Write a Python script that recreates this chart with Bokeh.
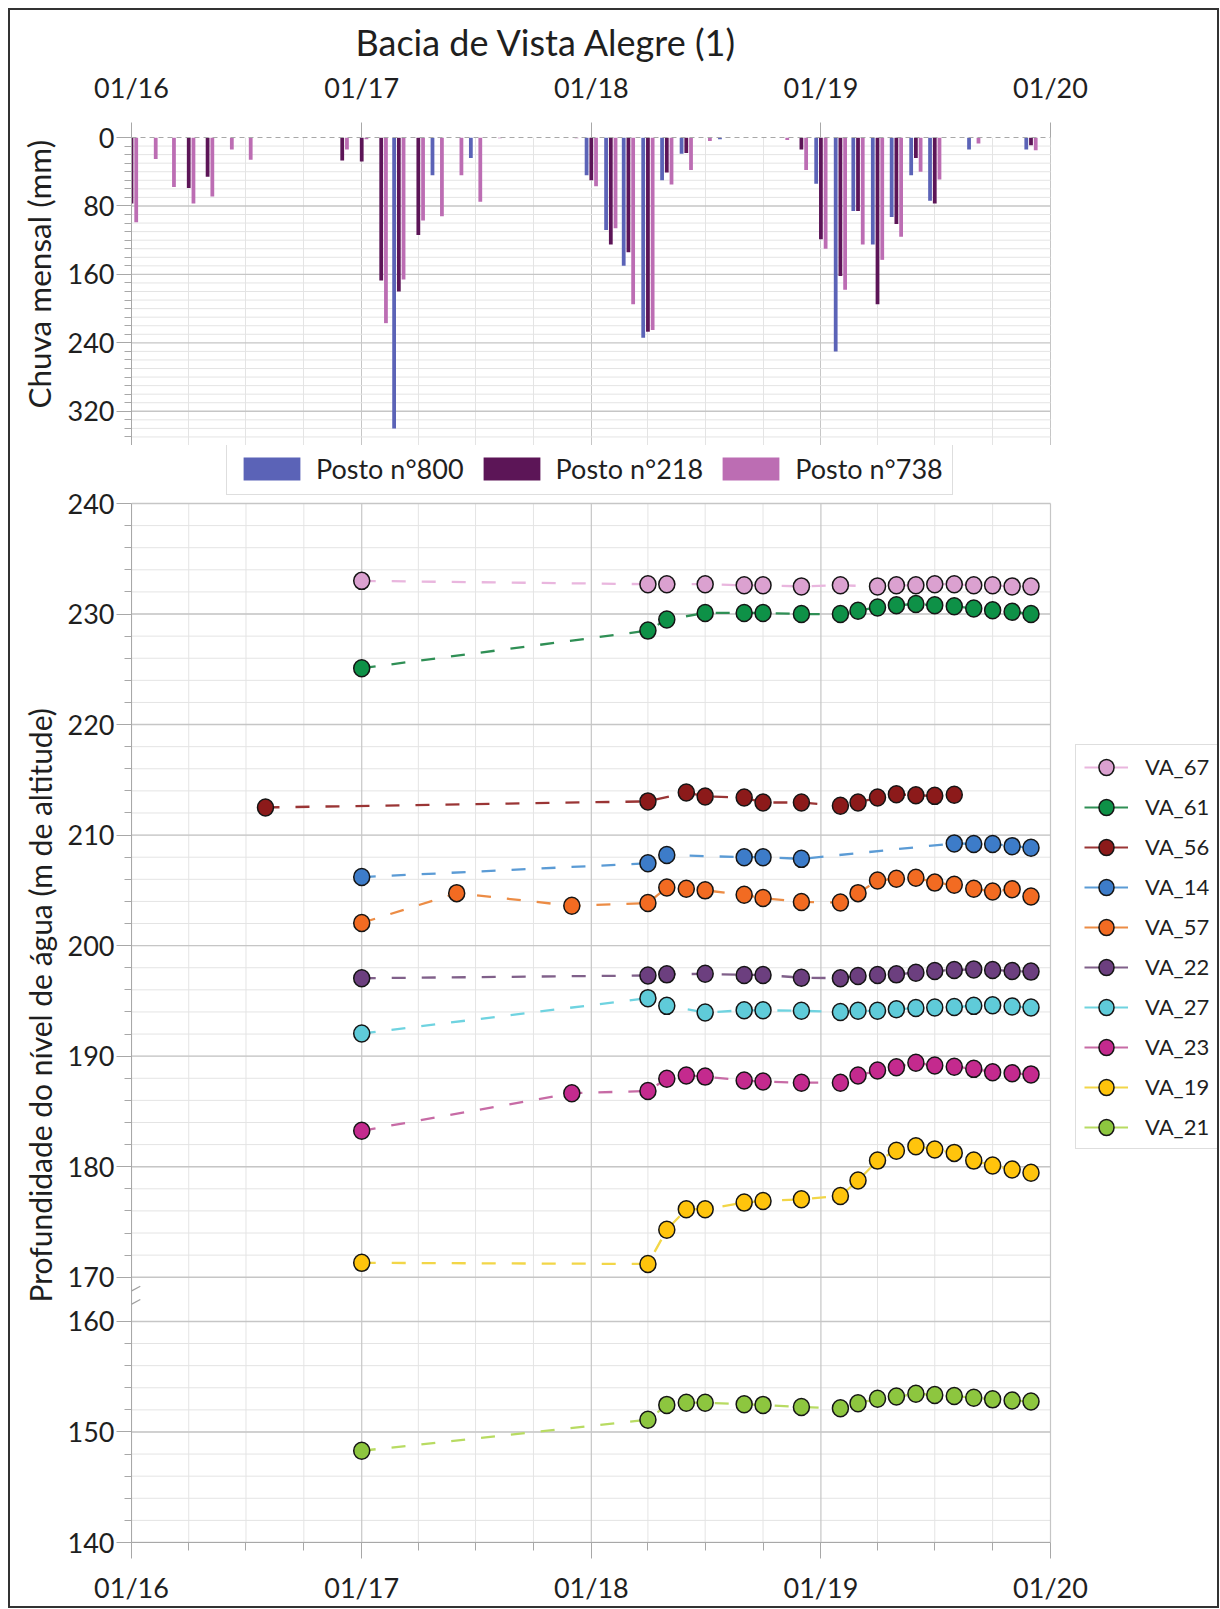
import pandas as pd
from bokeh.plotting import figure
from bokeh.models import (Range1d, FixedTicker, DatetimeTickFormatter, Legend, LegendItem,
                          ColumnDataSource, Arrow, Title)
from bokeh.layouts import column
from bokeh.embed import file_html
from bokeh.resources import INLINE

FONT = "Lato"
TXT = "#1f1f1f"

# ---------------- data: monthly rainfall (mm), Jan 2016 .. Dec 2019 ----------------
MONTHS = pd.date_range("2016-01-01", "2019-12-01", freq="MS")
RAIN_800 = [0, 0, 0, 0, 0, 0, 0, 0, 0, 0, 0, 0,
            0, 0, 340, 0, 44, 0, 24, 0, 0, 0, 0, 0,
            44, 108, 150, 234, 50, 19, 0, 2, 0, 0, 0, 0,
            54, 250, 86, 125, 93, 44, 74, 0, 14, 0, 0, 14]
RAIN_218 = [77, 0, 0, 59, 46, 0, 0, 0, 0, 0, 0, 27,
            28, 167, 180, 114, 0, 0, 0, 0, 0, 0, 0, 0,
            50, 125, 134, 227, 41, 18, 0, 0, 0, 0, 0, 14,
            119, 162, 86, 195, 101, 24, 77, 0, 0, 0, 0, 9]
RAIN_738 = [99, 25, 58, 77, 69, 14, 26, 0, 0, 0, 0, 14,
            2, 217, 166, 97, 92, 44, 75, 1, 0, 0, 0, 1,
            57, 106, 195, 225, 55, 38, 4, 0, 0, 0, 3, 38,
            130, 178, 125, 143, 116, 40, 49, 0, 7, 0, 0, 15]
RAIN_NAMES = ["Posto n°800", "Posto n°218", "Posto n°738"]
RAIN_TICKS = [0, 80, 160, 240, 320]

# ---------------- data: water level (m), per well ----------------
D2019 = ["2019-02-01", "2019-03-01", "2019-04-01", "2019-05-01", "2019-06-01", "2019-07-01",
         "2019-08-01", "2019-09-01", "2019-10-01", "2019-11-01", "2019-12-01"]

VA_67_DATES = ["2017-01-01", "2018-04-01", "2018-05-01", "2018-07-01", "2018-09-01", "2018-10-01",
               "2018-12-01", "2019-02-01", "2019-04-01", "2019-05-01", "2019-06-01", "2019-07-01",
               "2019-08-01", "2019-09-01", "2019-10-01", "2019-11-01", "2019-12-01"]
VA_67 = [233.0, 232.7, 232.7, 232.7, 232.6, 232.6, 232.5, 232.6, 232.5, 232.6, 232.6, 232.7,
         232.7, 232.6, 232.6, 232.5, 232.5]

VA_61_DATES = ["2017-01-01", "2018-04-01", "2018-05-01", "2018-07-01", "2018-09-01", "2018-10-01",
               "2018-12-01"] + D2019
VA_61 = [225.1, 228.5, 229.5, 230.1, 230.1, 230.1, 230.0, 230.0, 230.3, 230.6, 230.8, 230.9,
         230.8, 230.7, 230.5, 230.35, 230.2, 230.0]

VA_56_DATES = ["2016-08-01", "2018-04-01", "2018-06-01", "2018-07-01", "2018-09-01", "2018-10-01",
               "2018-12-01", "2019-02-01", "2019-03-01", "2019-04-01", "2019-05-01", "2019-06-01",
               "2019-07-01", "2019-08-01"]
VA_56 = [212.5, 213.05, 213.85, 213.5, 213.4, 212.95, 212.95, 212.65, 212.95, 213.4, 213.7,
         213.6, 213.55, 213.65]

VA_14_DATES = ["2017-01-01", "2018-04-01", "2018-05-01", "2018-09-01", "2018-10-01", "2018-12-01",
               "2019-08-01", "2019-09-01", "2019-10-01", "2019-11-01", "2019-12-01"]
VA_14 = [206.2, 207.45, 208.2, 208.0, 208.0, 207.85, 209.25, 209.2, 209.2, 209.0, 208.85]

VA_57_DATES = ["2017-01-01", "2017-06-01", "2017-12-01", "2018-04-01", "2018-05-01", "2018-06-01",
               "2018-07-01", "2018-09-01", "2018-10-01", "2018-12-01"] + D2019
VA_57 = [202.05, 204.75, 203.6, 203.85, 205.25, 205.15, 205.0, 204.6, 204.3, 203.95, 203.9,
         204.75, 205.9, 206.05, 206.15, 205.7, 205.5, 205.15, 204.9, 205.1, 204.45]

VA_22_DATES = ["2017-01-01", "2018-04-01", "2018-05-01", "2018-07-01", "2018-09-01", "2018-10-01",
               "2018-12-01"] + D2019
VA_22 = [197.05, 197.3, 197.4, 197.45, 197.35, 197.35, 197.1, 197.05, 197.25, 197.35, 197.4,
         197.55, 197.7, 197.8, 197.85, 197.8, 197.7, 197.65]

VA_27_DATES = VA_22_DATES
VA_27 = [192.05, 195.25, 194.55, 193.95, 194.15, 194.15, 194.1, 194.0, 194.1, 194.1, 194.25,
         194.35, 194.4, 194.45, 194.55, 194.6, 194.5, 194.4]

VA_23_DATES = ["2017-01-01", "2017-12-01", "2018-04-01", "2018-05-01", "2018-06-01", "2018-07-01",
               "2018-09-01", "2018-10-01", "2018-12-01"] + D2019
VA_23 = [183.25, 186.65, 186.85, 187.95, 188.25, 188.15, 187.8, 187.7, 187.6, 187.6, 188.25,
         188.7, 189.0, 189.4, 189.15, 189.05, 188.85, 188.55, 188.45, 188.35]

VA_19_DATES = ["2017-01-01", "2018-04-01", "2018-05-01", "2018-06-01", "2018-07-01", "2018-09-01",
               "2018-10-01", "2018-12-01"] + D2019
VA_19 = [171.3, 171.2, 174.3, 176.15, 176.15, 176.75, 176.9, 177.05, 177.35, 178.75, 180.55,
         181.45, 181.85, 181.55, 181.25, 180.55, 180.1, 179.75, 179.45]

VA_21_DATES = VA_19_DATES
VA_21 = [148.3, 151.1, 152.45, 152.65, 152.65, 152.5, 152.45, 152.25, 152.15, 152.6, 153.0,
         153.2, 153.45, 153.35, 153.25, 153.1, 152.95, 152.85, 152.75]

SERIES_NAMES = ["VA_67", "VA_61", "VA_56", "VA_14", "VA_57", "VA_22", "VA_27", "VA_23", "VA_19", "VA_21"]
SERIES_DATES = [VA_67_DATES, VA_61_DATES, VA_56_DATES, VA_14_DATES, VA_57_DATES, VA_22_DATES,
                VA_27_DATES, VA_23_DATES, VA_19_DATES, VA_21_DATES]
SERIES_VALUES = [VA_67, VA_61, VA_56, VA_14, VA_57, VA_22, VA_27, VA_23, VA_19, VA_21]
DEPTH_MAJOR = [170, 180, 190, 200, 210, 220, 230, 240]
DEPTH_LOW_MAJOR = [140, 150, 160]

# ---------------- styles ----------------
BAR_COLORS = ["#5B63B7", "#5C1557", "#BC6DB3"]
FILL = ["#DBA1D0", "#0E9147", "#8C1A1A", "#3D7CC9", "#F26B22", "#6C3F7F", "#5FCBD9",
        "#C42A8E", "#FFC40C", "#8DC63F"]
LINE = ["#E9B6DE", "#2F8F55", "#9A3535", "#5B9BD5", "#EC8C45", "#80608A", "#6FD3E0",
        "#C76BA5", "#F2D648", "#B8DB62"]
BREAK_SHIFT = 6.0      # axis break: values below the break are drawn 6 m higher
GRID_MAJOR = "#C6C6C6"
GRID_MINOR = "#E4E4E4"
TICK_COL = "#A8A8A8"
DAY_MS = 86400000


def ms(s):
    return pd.Timestamp(s).value // 10**6


YEAR_TICKS = [ms(f"{y}-01-01") for y in range(2016, 2021)]
QUARTER_TICKS = [ms(f"{y}-{m:02d}-01") for y in range(2016, 2020) for m in (4, 7, 10)]
X0 = ms("2016-01-01")
X1 = ms("2020-01-01")

W = 1207
FL = 121             # frame left (px)
XR = 1040            # pixel position of 01/20
H1 = 435
H2 = 1161
P2_BOT = 64
P2_FRAME = H2 - P2_BOT          # frame spans whole top of lower figure
P2_240 = 58                     # pixel row of the 240 line inside lower figure
# x range extends past 01/20 so the legend can sit inside the frame
X_END = X0 + (X1 - X0) * (W - FL) / (XR - FL)
Y_LO = 140 + BREAK_SHIFT
Y_HI = 240 + (240 - Y_LO) * P2_240 / (P2_FRAME - P2_240)

FMT = dict(years="%m/%y", months="%m/%y", days="%m/%y", hours="%m/%y", hourmin="%m/%y",
           minutes="%m/%y", minsec="%m/%y", seconds="%m/%y", milliseconds="%m/%y",
           microseconds="%m/%y")


def style_axis(ax, size="27px"):
    ax.major_label_text_font = FONT
    ax.major_label_text_font_size = size
    ax.major_label_text_color = TXT
    ax.axis_line_color = TICK_COL
    ax.major_tick_line_color = TICK_COL
    ax.minor_tick_line_color = TICK_COL
    ax.major_tick_in = 0
    ax.minor_tick_in = 0


def hlines(p, ys, color, width):
    p.segment(x0=[X0] * len(ys), y0=ys, x1=[X1] * len(ys), y1=ys,
              line_color=color, line_width=width)


def vlines(p, xs, y0, y1, color, width):
    p.segment(x0=xs, y0=[y0] * len(xs), x1=xs, y1=[y1] * len(xs),
              line_color=color, line_width=width)


# ================= top chart: rainfall =================
x_range = Range1d(X0, X_END)
p1 = figure(width=W, height=H1, x_axis_type="datetime", x_axis_location="above",
            x_range=x_range, y_range=Range1d(360, 0),
            output_backend="svg", toolbar_location=None,
            min_border_left=FL, min_border_right=0, min_border_top=127, min_border_bottom=0,
            title="Bacia de Vista Alegre (1)")
p1.title.align = "left"
p1.title.offset = 224
p1.title.text_font = FONT
p1.title.text_font_size = "36px"
p1.title.text_font_style = "normal"
p1.title.text_color = TXT
p1.title.standoff = 8
p1.outline_line_color = None

xa = p1.xaxis[0]
xa.ticker = FixedTicker(ticks=YEAR_TICKS, minor_ticks=QUARTER_TICKS)
xa.formatter = DatetimeTickFormatter(strip_leading_zeros=False, **FMT)
style_axis(xa)
xa.bounds = (X0, X1)
xa.major_tick_out = 15
xa.minor_tick_out = 0
xa.axis_line_dash = "5 4"
xa.major_label_standoff = 19

ya = p1.yaxis[0]
ya.ticker = FixedTicker(ticks=RAIN_TICKS, minor_ticks=list(range(0, 361, 10)))
style_axis(ya)
ya.bounds = (0, 360)
ya.major_tick_out = 15
ya.minor_tick_out = 7
ya.major_label_standoff = 2
p1.add_layout(Title(text="Chuva mensal (mm)", align="left", offset=37, text_font=FONT,
                    text_font_size="31.5px", text_font_style="normal", text_color=TXT,
                    standoff=14), "left")

p1.xgrid.bounds = (X0 - DAY_MS, X1 + DAY_MS)
p1.xgrid.grid_line_color = GRID_MAJOR
p1.xgrid.minor_grid_line_color = GRID_MINOR
p1.ygrid.grid_line_color = None
hlines(p1, [v for v in range(10, 361, 10) if v % 80], GRID_MINOR, 1)
hlines(p1, RAIN_TICKS[1:], GRID_MAJOR, 1.4)

offsets = [-7.5, 0.0, 7.5]
for vals, col, off in zip([RAIN_800, RAIN_218, RAIN_738], BAR_COLORS, offsets):
    src = ColumnDataSource(dict(x=MONTHS + pd.Timedelta(days=off), top=vals))
    p1.vbar(x="x", top="top", bottom=0, width=6 * DAY_MS, source=src,
            fill_color=col, line_color=None)

# ================= bottom chart: water level =================
p2 = figure(width=W, height=H2, x_axis_type="datetime", x_range=x_range,
            y_range=Range1d(Y_LO, Y_HI),
            output_backend="svg", toolbar_location=None,
            min_border_left=FL, min_border_right=0, min_border_top=0,
            min_border_bottom=P2_BOT)
p2.outline_line_color = None
p2.xgrid.grid_line_color = None
p2.ygrid.grid_line_color = None

bx = p2.xaxis[0]
bx.ticker = FixedTicker(ticks=YEAR_TICKS, minor_ticks=QUARTER_TICKS)
bx.formatter = DatetimeTickFormatter(strip_leading_zeros=False, **FMT)
style_axis(bx)
bx.bounds = (X0, X1)
bx.major_tick_out = 16
bx.minor_tick_out = 8
bx.major_label_standoff = 12

low_plot = [v + BREAK_SHIFT for v in DEPTH_LOW_MAJOR]
minor_plot = [v + BREAK_SHIFT for v in range(142, 160, 2)] + list(range(172, 240, 2))
by = p2.yaxis[0]
by.ticker = FixedTicker(ticks=low_plot + DEPTH_MAJOR, minor_ticks=minor_plot)
by.major_label_overrides = {int(p): str(v) for p, v in zip(low_plot, DEPTH_LOW_MAJOR)}
style_axis(by)
by.bounds = (Y_LO, 240)
by.major_tick_out = 15
by.minor_tick_out = 7
by.major_label_standoff = 2
p2.add_layout(Title(text="Profundidade do nível de água (m de altitude)", align="left",
                    offset=240, text_font=FONT, text_font_size="30px",
                    text_font_style="normal", text_color=TXT, standoff=14), "left")

# grid (limited to the plotting area)
hlines(p2, minor_plot, GRID_MINOR, 1)
vlines(p2, QUARTER_TICKS, Y_LO, 240, GRID_MINOR, 1)
hlines(p2, low_plot + DEPTH_MAJOR, GRID_MAJOR, 1.4)
vlines(p2, YEAR_TICKS, Y_LO, 240, GRID_MAJOR, 1.2)

# axis break marks
for c in (168.75, 167.55):
    p2.add_layout(Arrow(end=None, x_start=X0 - 14 * DAY_MS, y_start=c - 0.43,
                        x_end=X0 + 14 * DAY_MS, y_end=c + 0.43,
                        line_color="#A0A0A0", line_width=1.3))

sources = []
for name, dates, vals in zip(SERIES_NAMES, SERIES_DATES, SERIES_VALUES):
    shift = BREAK_SHIFT if max(vals) < 165 else 0.0
    sources.append(ColumnDataSource(dict(x=pd.to_datetime(dates),
                                         y=[v + shift for v in vals])))

for src, lc in zip(sources, LINE):
    p2.line(x="x", y="y", source=src, line_color=lc, line_width=2.3, line_dash="14 16")

items = []
for name, src, fc, lc in zip(SERIES_NAMES, sources, FILL, LINE):
    mk = p2.ellipse(x="x", y="y", width=16, height=17, width_units="screen",
                    height_units="screen", source=src, fill_color=fc,
                    line_color="#151515", line_width=1.5)
    # legend-only line sample, placed below the visible range
    key = p2.line(x=[X0, X1], y=[0, 0], line_color=lc, line_width=2)
    items.append(LegendItem(label=name, renderers=[key, mk]))

leg = Legend(items=items, location=(1065 - FL, P2_FRAME - 704), orientation="vertical",
             glyph_width=44, glyph_height=20, label_height=20, spacing=13, padding=8,
             margin=0, label_standoff=17, label_text_font=FONT, label_text_font_size="22px",
             label_text_color=TXT, border_line_color="#BDBDBD", border_line_width=1,
             background_fill_color="white", background_fill_alpha=1.0)
p2.add_layout(leg)

bar_items = []
for name, col in zip(RAIN_NAMES, BAR_COLORS):
    r = p2.vbar(x=[X0], top=[0], bottom=[0], width=DAY_MS, fill_color=col, line_color=None)
    bar_items.append(LegendItem(label=name, renderers=[r]))
bleg = Legend(items=bar_items, location=(216 - FL, P2_FRAME - 50), orientation="horizontal",
              glyph_width=71, glyph_height=29, label_height=23, spacing=12, padding=9,
              margin=0, label_standoff=9, label_text_font=FONT, label_text_font_size="27px",
              label_text_color=TXT, border_line_color="#BDBDBD", border_line_width=1,
              background_fill_color="white", background_fill_alpha=1.0)
p2.add_layout(bleg)

layout = column(p1, p2, styles={"border": "2px solid #333333", "margin": "8px 0px 0px 8px"})
open("out.html", "w").write(file_html(layout, INLINE))
